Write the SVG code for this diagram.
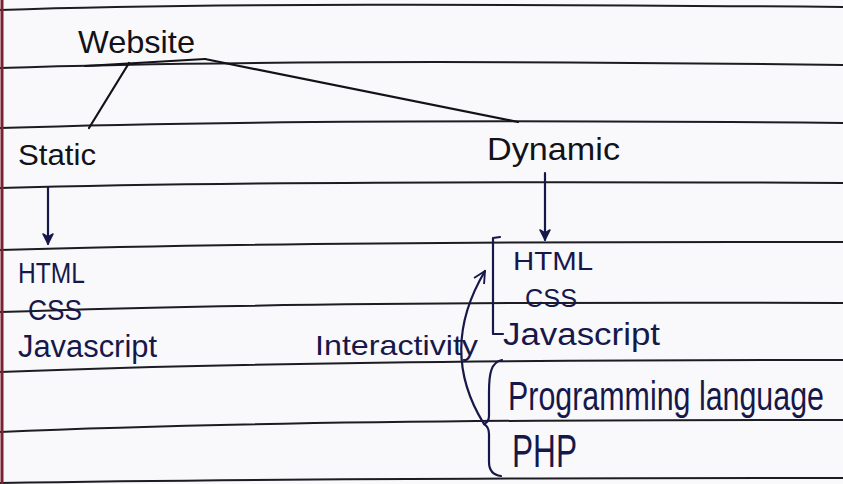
<svg xmlns="http://www.w3.org/2000/svg" width="843" height="484" viewBox="0 0 843 484">
<defs>
<style>
.rule{fill:none;stroke:#1c1c22;stroke-width:2}
.ink{font-family:"Liberation Sans","DejaVu Sans",sans-serif;fill:#121218}
.blue{font-family:"Liberation Sans","DejaVu Sans",sans-serif;fill:#17184a}
.con{fill:none;stroke:#121218;stroke-width:2.2;stroke-linecap:round;stroke-linejoin:round}
.bcon{fill:none;stroke:#17184a;stroke-width:2.2;stroke-linecap:round;stroke-linejoin:round}
</style>
<marker id="ah" viewBox="0 0 12 12" refX="11" refY="6" markerWidth="12" markerHeight="12" markerUnits="userSpaceOnUse" orient="auto">
<path d="M1,1 L11,6 L1,11 L4,6 Z" fill="#17184a" stroke="#17184a" stroke-width="1.5" stroke-linejoin="round"/>
</marker>
<marker id="open" viewBox="0 0 12 12" refX="11" refY="6" markerWidth="14" markerHeight="14" markerUnits="userSpaceOnUse" orient="auto">
<path d="M1,1 L11,6 L1,11" fill="none" stroke="#17184a" stroke-width="1.6" stroke-linejoin="round"/>
</marker>
</defs>
<rect width="843" height="484" fill="#f9f9fc"/>
<g id="paper">
<path class="rule" d="M0,10 C200,3 500,4 843,7"/>
<path class="rule" d="M0,68 Q300,58 843,65"/>
<path class="rule" d="M0,128 Q300,118 843,123"/>
<path class="rule" d="M0,188 Q300,180 843,183"/>
<path class="rule" d="M0,250 Q300,241 843,242"/>
<path class="rule" d="M0,312 Q300,301 843,303"/>
<path class="rule" d="M0,372 Q300,360 843,360"/>
<path class="rule" d="M0,432 Q300,419 843,420"/>
<path class="rule" d="M0,483 Q300,478 843,478"/>
<line x1="2" y1="0" x2="2" y2="484" stroke="#7a2430" stroke-width="3"/>
</g>
<g id="connectors">
<path class="con" d="M85,66 L205,59" stroke-width="3.2"/>
<path class="con" d="M205,59 L518,122"/>
<path class="con" d="M129,63 L89,128"/>
<path class="bcon" d="M48,187 L48,244" marker-end="url(#ah)"/>
<path class="bcon" d="M545,173 L545,240" marker-end="url(#ah)"/>
<path class="bcon" d="M500,237 L493,238 L493,334 L503,334"/>
<path class="bcon" d="M502,360 C491,362 489,374 489,392 L489,416 Q489,422 484,424 Q489,427 489,434 L489,462 C489,471 493,475 501,476"/>
<path class="bcon" d="M484,424 Q438,350 485,271" marker-end="url(#open)"/>
</g>
<g id="website"><text class="ink" x="78" y="53" font-size="32" textLength="117" lengthAdjust="spacingAndGlyphs">Website</text></g>
<g id="static"><text class="ink" x="18" y="165" font-size="30" textLength="78" lengthAdjust="spacingAndGlyphs">Static</text></g>
<g id="dynamic"><text class="ink" x="487" y="160" font-size="32" textLength="133" lengthAdjust="spacingAndGlyphs">Dynamic</text></g>
<g id="static-list">
<text class="blue" x="18" y="283" font-size="30" textLength="67" lengthAdjust="spacingAndGlyphs">HTML</text>
<text class="blue" x="28" y="320" font-size="29" textLength="54" lengthAdjust="spacingAndGlyphs">CSS</text>
<text class="blue" x="18" y="357" font-size="31" textLength="139" lengthAdjust="spacingAndGlyphs">Javascript</text>
</g>
<g id="interactivity"><text class="blue" x="315" y="355" font-size="28" textLength="163" lengthAdjust="spacingAndGlyphs">Interactivity</text></g>
<g id="dynamic-list">
<text class="blue" x="513" y="270" font-size="25" textLength="80" lengthAdjust="spacingAndGlyphs">HTML</text>
<text class="blue" x="525" y="307" font-size="25" textLength="52" lengthAdjust="spacingAndGlyphs">CSS</text>
<text class="blue" x="503" y="345" font-size="31" textLength="157" lengthAdjust="spacingAndGlyphs">Javascript</text>
</g>
<g id="server-side">
<text class="blue" x="508" y="410" font-size="40" textLength="316" lengthAdjust="spacingAndGlyphs">Programming language</text>
<text class="blue" x="512" y="467" font-size="46" textLength="65" lengthAdjust="spacingAndGlyphs">PHP</text>
</g>
</svg>
